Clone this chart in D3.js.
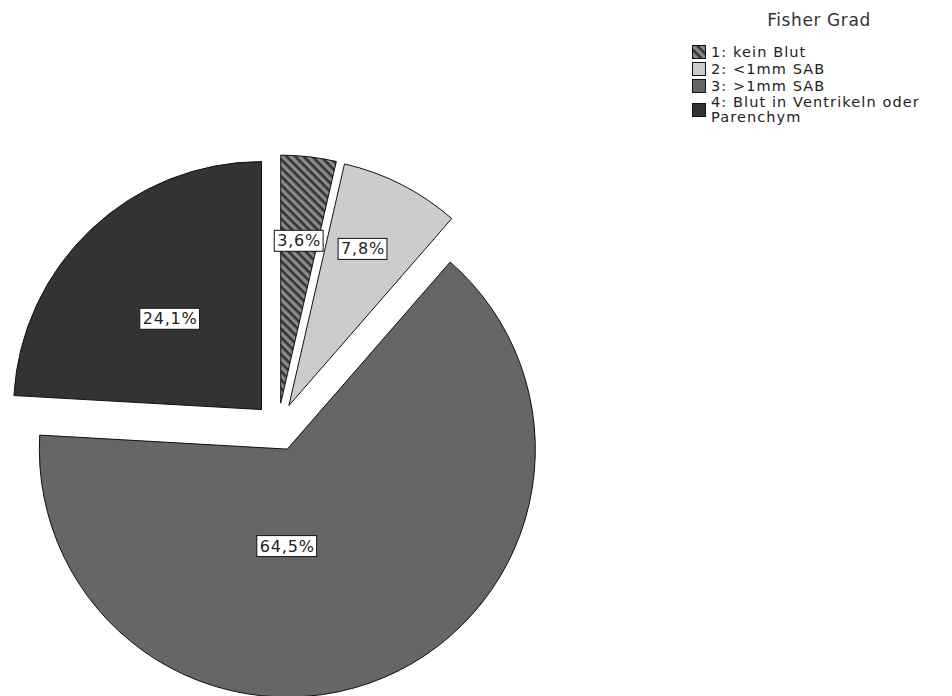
<!DOCTYPE html>
<html>
<head>
<meta charset="utf-8">
<script src="https://cdn.jsdelivr.net/npm/d3@7"></script>
<style>
  html, body { margin: 0; padding: 0; background: #fff; }
  svg { display: block; font-family: "DejaVu Sans", sans-serif; }
</style>
</head>
<body>
<div class="curr-graff"></div>
<script>
// data
const legendTitle = "Fisher Grad";
const categories = ["1: kein Blut", "2: <1mm SAB", "3: >1mm SAB", "4: Blut in Ventrikeln oder Parenchym"];
const percents = [3.6, 7.8, 64.5, 24.1];
const valueLabels = ["3,6%", "7,8%", "64,5%", "24,1%"];

const fills = ["url(#hatch)", "#cccccc", "#666666", "#333333"];
// label placement: [angle shift (rad), radius fraction]
const labelPlace = [[0, 0.66], [-0.03, 0.70], [0.40, 0.39], [-0.03, 0.52]];

function drawPie() {
    const width = 952;
    const height = 696;
    const cx = 278, cy = 427;
    const radius = 248;
    const explode = 24;

    const svg = d3.select(".curr-graff")
      .append("svg")
      .attr("width", width)
      .attr("height", height);

    const defs = svg.append("defs");
    const pat = defs.append("pattern")
      .attr("id", "hatch")
      .attr("patternUnits", "userSpaceOnUse")
      .attr("width", 6)
      .attr("height", 6)
      .attr("patternTransform", "rotate(45)");
    pat.append("rect").attr("width", 6).attr("height", 6).attr("fill", "#8a8a8a");
    pat.append("rect").attr("width", 6).attr("height", 2.6).attr("fill", "#333");

    const pie = d3.pie().sort(null).value(d => d);
    const arcs = pie(percents);
    const arc = d3.arc().innerRadius(0).outerRadius(radius);

    const g = svg.append("g").attr("transform", `translate(${cx},${cy})`);

    const slices = g.selectAll("g.slice")
      .data(arcs)
      .enter()
      .append("g")
      .attr("class", "slice")
      .attr("transform", d => {
          const a = (d.startAngle + d.endAngle) / 2;
          return `translate(${explode * Math.sin(a)},${-explode * Math.cos(a)})`;
      });

    slices.append("path")
      .attr("d", arc)
      .attr("fill", (d, i) => fills[i])
      .attr("stroke", "#111")
      .attr("stroke-width", 1);

    // value labels in white boxes
    slices.each(function(d, i) {
        const sel = d3.select(this);
        const shift = labelPlace[i][0];
        const r = radius * labelPlace[i][1];
        const la = d3.arc().innerRadius(r).outerRadius(r)
          .startAngle(d.startAngle + shift).endAngle(d.endAngle + shift);
        const [lx, ly] = la.centroid();
        const lg = sel.append("g").attr("transform", `translate(${lx},${ly})`);
        const t = lg.append("text")
          .attr("text-anchor", "middle")
          .attr("dy", "0.36em")
          .attr("font-size", 16)
          .attr("letter-spacing", 0.8)
          .attr("fill", "#222")
          .text(valueLabels[i]);
        const bb = t.node().getBBox();
        lg.insert("rect", "text")
          .attr("x", bb.x - 3)
          .attr("y", bb.y - 1)
          .attr("width", bb.width + 5)
          .attr("height", bb.height + 2)
          .attr("fill", "#fff")
          .attr("stroke", "#111")
          .attr("stroke-width", 1);
    });

    // legend
    const legend = svg.append("g");
    legend.append("text")
      .attr("x", 819)
      .attr("y", 26)
      .attr("text-anchor", "middle")
      .attr("font-size", 17)
      .attr("letter-spacing", 0.6)
      .attr("fill", "#333")
      .text(legendTitle);

    const rowY = [52, 69, 86, 102];
    categories.forEach((c, i) => {
        const words = c.split(" ");
        let lines = [c];
        if (i === 3) lines = [words.slice(0, 5).join(" "), words.slice(5).join(" ")];
        const swY = lines.length > 1 ? rowY[i] + 8 : rowY[i];
        legend.append("rect")
          .attr("x", 692.5)
          .attr("y", swY - 6.5)
          .attr("width", 13)
          .attr("height", 13)
          .attr("fill", fills[i])
          .attr("stroke", "#111")
          .attr("stroke-width", 1);
        const t = legend.append("text")
          .attr("font-size", 14.5)
          .attr("letter-spacing", 1.1)
          .attr("fill", "#222");
        lines.forEach((ln, k) => {
            t.append("tspan")
              .attr("x", 711)
              .attr("y", rowY[i] + 5 + k * 15)
              .text(ln);
        });
    });
}

drawPie();
</script>
</body>
</html>
